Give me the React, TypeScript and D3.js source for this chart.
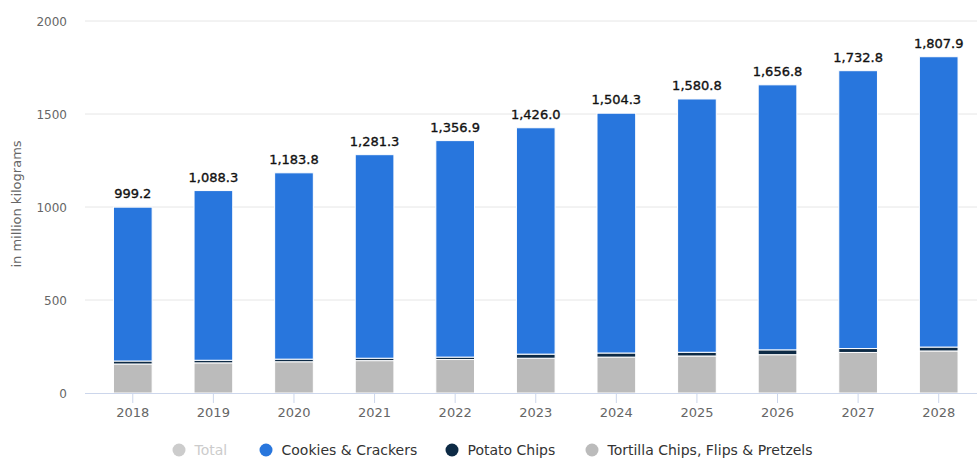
import React from "react";
import * as d3 from "d3";

const years = ["2018","2019","2020","2021","2022","2023","2024","2025","2026","2027","2028"];
const totals = [999.2,1088.3,1183.8,1281.3,1356.9,1426.0,1504.3,1580.8,1656.8,1732.8,1807.9];
const tortilla = [156,162,168,174,180,187,193,199,206,218,226];
const potato = [16,14,14,13,13,22,22,20,26,21,21];
const cookies = totals.map((t, i) => +(t - tortilla[i] - potato[i]).toFixed(1));
const yTicks = [0,500,1000,1500,2000];

const seriesKeys = ["tortilla","potato","cookies"];
const seriesColors: Record<string,string> = { tortilla: "#bbbbbb", potato: "#0d2a45", cookies: "#2876dd" };
const legendItems = [
  { label: "Total", color: "#cccccc", text: "#cccccc", x: 179 },
  { label: "Cookies & Crackers", color: "#2876dd", text: "#333333", x: 266 },
  { label: "Potato Chips", color: "#0d2a45", text: "#333333", x: 452 },
  { label: "Tortilla Chips, Flips & Pretzels", color: "#bbbbbb", text: "#333333", x: 592 },
];

export default function App() {
  const W = 977, H = 460;
  const plotLeft = 85, plotRight = 977, y0 = 393, yTop = 21;
  const x = d3.scaleBand<string>().domain(years).range([92.5, 979]).paddingInner(0.52).paddingOuter(0.26);
  const y = d3.scaleLinear().domain([0, 2000]).range([y0, yTop]);
  const rows = years.map((yr, i) => ({ year: yr, tortilla: tortilla[i], potato: potato[i], cookies: cookies[i] }));
  const stack = d3.stack<any>().keys(seriesKeys)(rows);
  const font = "'DejaVu Sans', 'Open Sans', sans-serif";
  const fmt = d3.format(",.1f");
  return (
    <svg width={W} height={H} style={{ position: "absolute", left: 0, top: 0, fontFamily: font }}>
      <rect width={W} height={H} fill="#ffffff" />
      {yTicks.map(t => (
        <g key={t}>
          {t > 0 && <line x1={plotLeft} x2={plotRight} y1={y(t)} y2={y(t)} stroke="#e6e6e6" strokeWidth={1} />}
          <text x={67} y={y(t) + 4.5} textAnchor="end" fontSize={12} fill="#666666">{t}</text>
        </g>
      ))}
      <text transform={`translate(21,204) rotate(-90)`} textAnchor="middle" fontSize={13} fill="#666666">in million kilograms</text>
      {stack.map(s => (
        <g key={s.key} fill={seriesColors[s.key]}>
          {s.map((d, i) => (
            <rect key={i} x={x(years[i])!} width={x.bandwidth()} y={y(d[1])} height={Math.max(0, y(d[0]) - y(d[1]))} stroke="#ffffff" strokeWidth={1} />
          ))}
        </g>
      ))}
      <line x1={plotLeft} x2={plotRight} y1={y0 + 0.5} y2={y0 + 0.5} stroke="#ccd6eb" strokeWidth={1} />
      {years.map((yr, i) => {
        const cx = x(yr)! + x.bandwidth() / 2;
        return (
          <g key={yr}>
            <line x1={cx} x2={cx} y1={y0} y2={y0 + 10} stroke="#ccd6eb" />
            <text x={cx} y={y0 + 23.5} textAnchor="middle" fontSize={13} fill="#666666">{yr}</text>
            <text x={cx} y={y(totals[i]) - 9} textAnchor="middle" fontSize={13} fill="#111111" stroke="#111111" strokeWidth={0.35}>{fmt(totals[i])}</text>
          </g>
        );
      })}
      {legendItems.map(l => (
        <g key={l.label}>
          <circle cx={l.x} cy={450} r={6.5} fill={l.color} />
          <text x={l.x + 15.5} y={455} fontSize={14} fill={l.text}>{l.label}</text>
        </g>
      ))}
    </svg>
  );
}
